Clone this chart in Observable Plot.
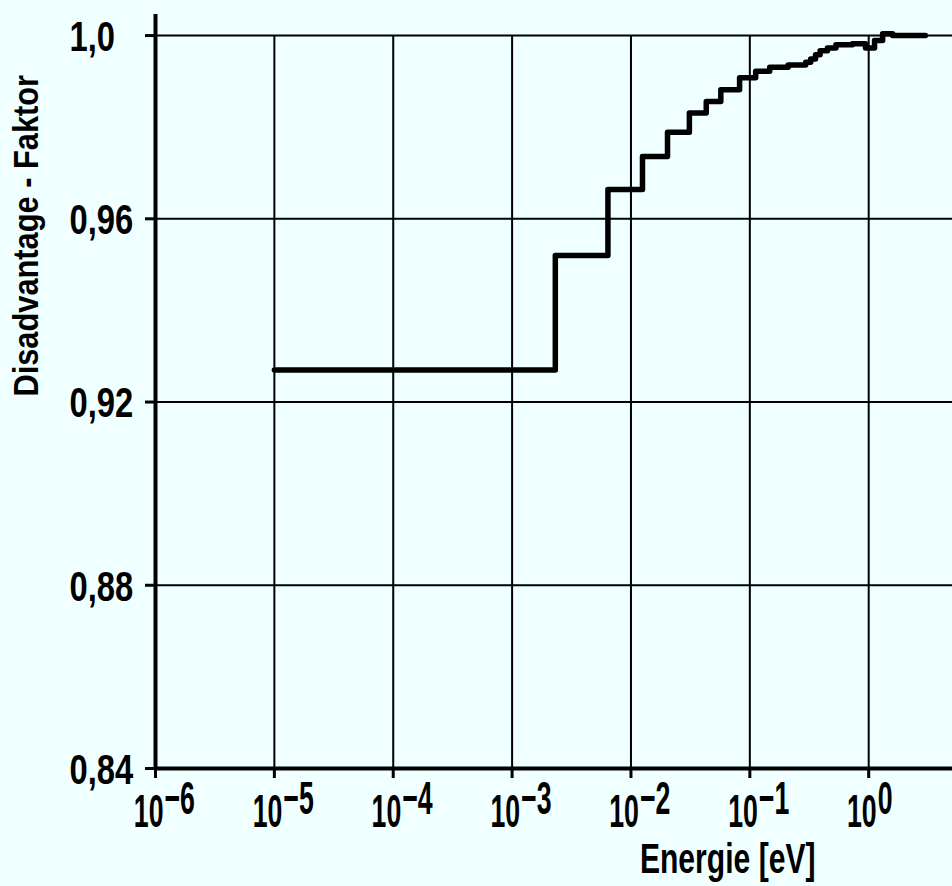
<!DOCTYPE html>
<html>
<head>
<meta charset="utf-8">
<script src="https://cdn.jsdelivr.net/npm/d3@7"></script>
<script src="https://cdn.jsdelivr.net/npm/@observablehq/plot@0.6"></script>
<style>
  html, body { margin: 0; padding: 0; background: #f0ffff; }
  #chart svg { display: block; }
</style>
</head>
<body>
<div id="chart"></div>
<script>
// ---- data ----
const energies = [1e-5, 2.31e-3, 6.4e-3, 1.25e-2, 2.03e-2, 3.1e-2, 4.3e-2, 5.7e-2, 8.2e-2, 0.112, 0.147, 0.21, 0.295, 0.325, 0.357, 0.39, 0.45, 0.53, 0.73, 0.94, 1.12, 1.31, 1.59, 3.0];
const factors  = [0.927, 0.952, 0.9664, 0.9736, 0.9789, 0.9831, 0.9856, 0.9882, 0.9908, 0.9922, 0.9931, 0.9936, 0.9942, 0.9949, 0.9958, 0.9967, 0.9973, 0.9980, 0.9982, 0.9973, 0.9989, 1.0004, 1.0, 1.0];

const xTicks = [1e-6, 1e-5, 1e-4, 1e-3, 1e-2, 1e-1, 1];
const xTickExponents = ["−6", "−5", "−4", "−3", "−2", "−1", "0"];
const xGrid = [1e-5, 1e-4, 1e-3, 1e-2, 1e-1, 1];
const yTicks = [0.84, 0.88, 0.92, 0.96, 1.0];
const yTickLabels = ["0,84", "0,88", "0,92", "0,96", "1,0"];
const yGrid = [0.88, 0.92, 0.96, 1.0];
const xTitle = "Energie [eV]";
const yTitle = "Disadvantage - Faktor";

const steps = energies.map((e, i) => ({E: e, f: factors[i]}));
const xLab = xTicks.map((t, i) => ({t, exp: xTickExponents[i]}));
const yLab = yTicks.map((t, i) => ({t, label: yTickLabels[i]}));

const font = "Liberation Sans, Arial, sans-serif";

const chart = Plot.plot({
  width: 952,
  height: 886,
  marginLeft: 155,
  marginRight: 0,
  marginTop: 14,
  marginBottom: 118,
  style: {background: "#f0ffff", color: "black"},
  x: {type: "log", domain: [1e-6, 5.07]},
  y: {domain: [0.84, 1.0046]},
  marks: [
    Plot.ruleY(yGrid, {stroke: "black", strokeWidth: 2}),
    Plot.ruleX(xGrid, {y1: 0.84, y2: 1.0, stroke: "black", strokeWidth: 2}),
    Plot.axisX({ticks: xTicks, tickSize: 10, tickFormat: () => "", label: null, strokeWidth: 3}),
    Plot.axisY({ticks: yTicks, tickSize: 10, tickFormat: () => "", label: null, strokeWidth: 3}),
    Plot.ruleX([1e-6], {stroke: "black", strokeWidth: 4}),
    Plot.ruleY([0.84], {stroke: "black", strokeWidth: 4}),
    Plot.line(steps, {x: "E", y: "f", curve: "step-after", stroke: "black", strokeWidth: 5.5}),
    // x tick labels: "10" + raised exponent
    Plot.text(xLab, {x: "t", y: 0.84, text: () => "10", textAnchor: "end", dx: 8, dy: 44,
      fontSize: 46, fontWeight: "bold", fontFamily: font, fill: "black"}),
    Plot.text(xLab, {x: "t", y: 0.84, text: "exp", textAnchor: "start", dx: 9, dy: 31,
      fontSize: 46, fontWeight: "bold", fontFamily: font, fill: "black"}),
    // y tick labels
    Plot.text(yLab, {x: 1e-6, y: "t", text: "label", textAnchor: "start", dx: -86, dy: 2,
      fontSize: 42, fontWeight: "bold", fontFamily: font, fill: "black"}),
    // axis titles
    Plot.text([xTitle], {frameAnchor: "bottom-right", textAnchor: "end", dx: -137, dy: 104,
      fontSize: 43, fontWeight: "bold", fontFamily: font, fill: "black"}),
    Plot.text([yTitle], {x: 1e-6, y: 0.9563, rotate: -90, textAnchor: "middle", dx: -129,
      fontSize: 35, fontWeight: "bold", fontFamily: font, fill: "black"})
  ]
});

// condense the lettering horizontally, like the narrow DIN lettering of the original
chart.querySelectorAll("text").forEach(t => {
  const s = t.textContent;
  if (!s) return;
  let k;
  if (s.startsWith("Disadvantage")) k = 0.88;
  else if (s.startsWith("Energie")) k = 0.7;
  else if (s.includes(",")) k = 0.78;
  else k = 0.58;
  const tr = t.getAttribute("transform");
  if (tr) {
    t.setAttribute("transform", tr + ` scale(${k},1)`);
  } else {
    const x = +(t.getAttribute("x") || 0), y = +(t.getAttribute("y") || 0);
    t.removeAttribute("x"); t.removeAttribute("y");
    t.setAttribute("transform", `translate(${x},${y}) scale(${k},1)`);
  }
});

document.getElementById("chart").appendChild(chart);
</script>
</body>
</html>
